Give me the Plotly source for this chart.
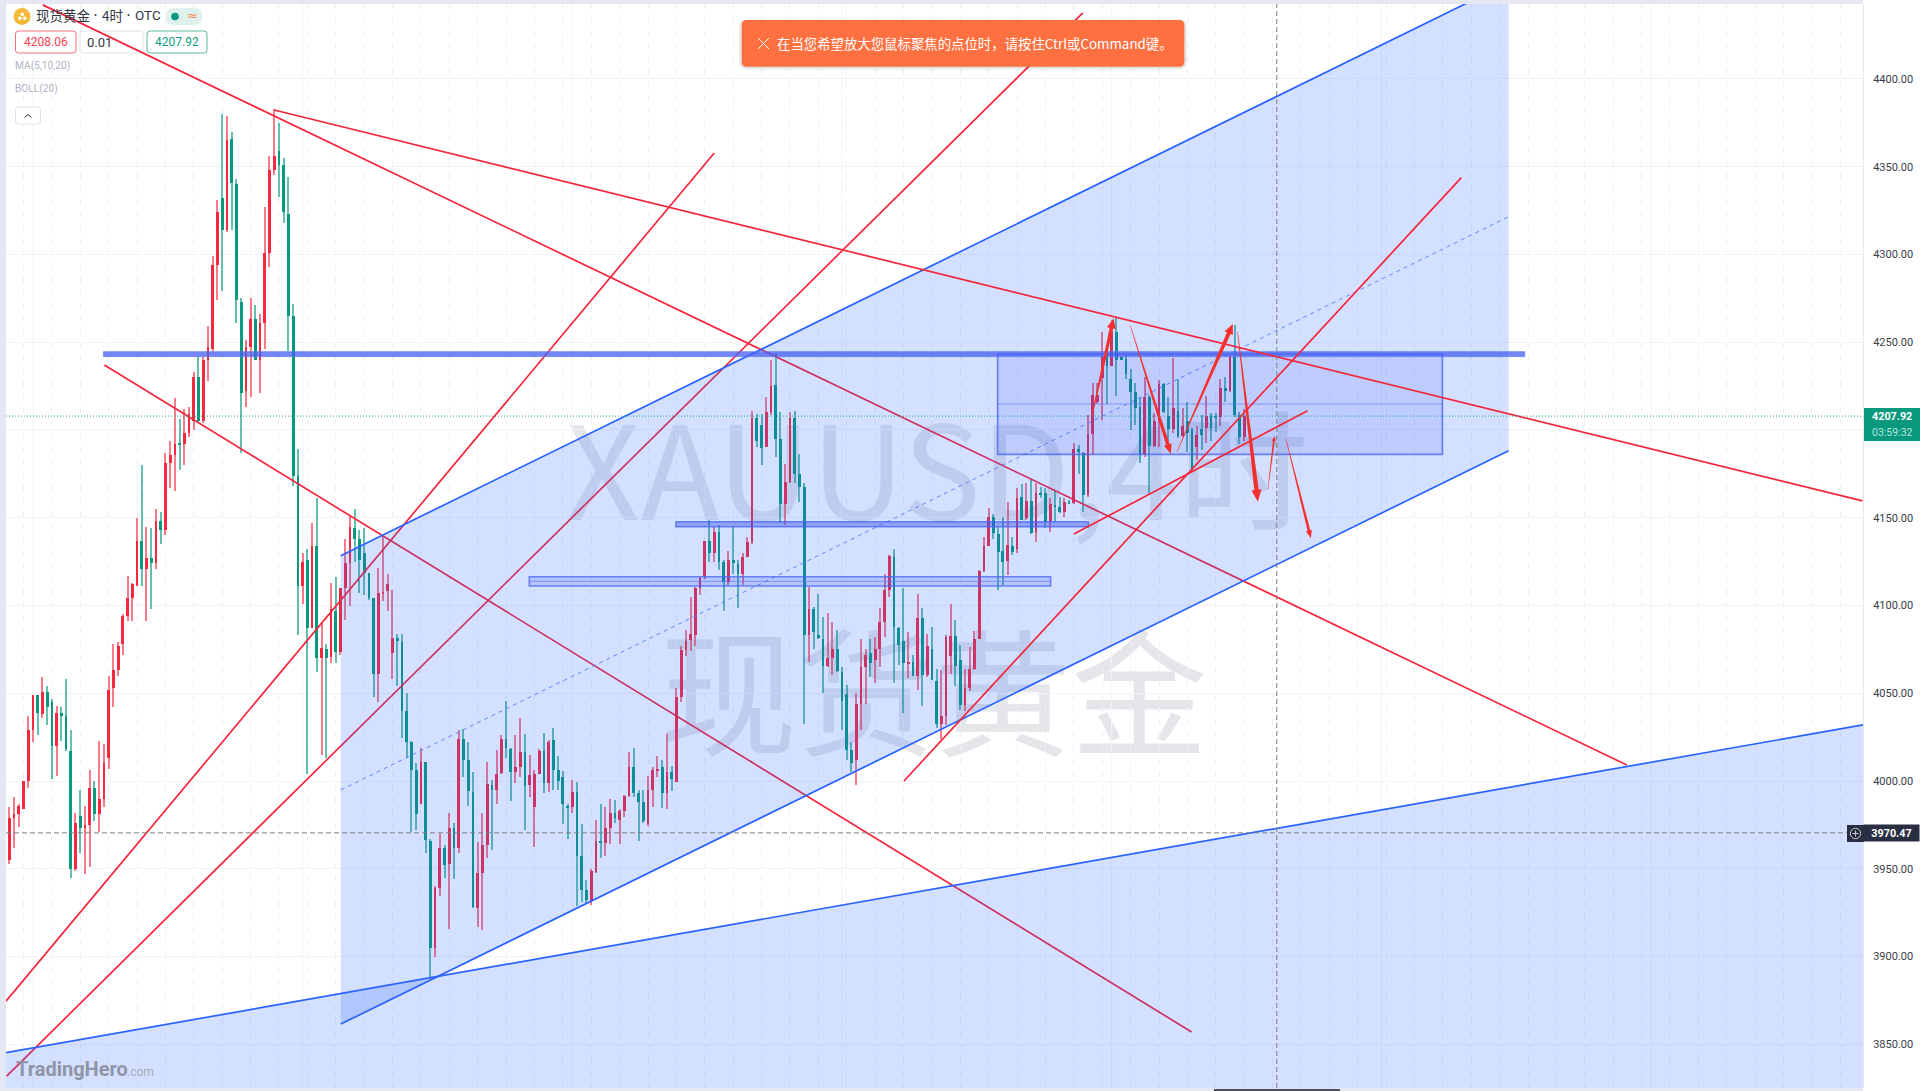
import plotly.graph_objects as go

OPEN = [3955,3979,3981,3984,4000,4029,4049,4038,4051,4045,
4020,4039,4037,4017,3950,3980,3973,3975,3996,3981,
3990,4013,4053,4063,4078,4094,4104,4111,4137,4121,
4127,4124,4148,4143,4181,4186,4192.5,4192,4198,4205,
4230,4205,4240,4246,4294,4332,4314,4366,4340,4273,
4222,4247,4263,4240,4261,4301,4348,4359,4351,4323,
4265,4174,4111,4126,4087,4134,4070,4075.5,4070.6,4097,
4073.6,4110,4124,4144,4138,4130,4118.6,4104.5,4061,4107,
4108,4073,4081.6,4079,4040,4022,4006.5,3987,4010.7,3966,
3904.6,3939,3961.6,3953,3973,3962,4023.8,4012,3994,3927.5,
3947.4,3963.5,3997.7,3995,4004.4,4023.8,4018,4005,4008,4016.4,
3997.7,3985,4004,4017,3998.7,4023.4,4006.3,4002.5,3986,3985,
3994,3957,3938,3932,3948.3,3966,3964.5,3973,3982,3978,
3983,3991.5,4008,3993,3988,3975.5,3995,4006,4008,3993.4,
4005,3999.6,4047.7,4074.7,4080.4,4083,4109.7,4116,4137,4129.7,
4141.7,4125,4113.6,4126,4123.6,4118,4127.7,4136,4206.6,4203,
4190.5,4210.4,4225.6,4195,4157.8,4170.5,4207,4175,4167.7,4083,
4097.8,4083,4081.2,4065.5,4069.9,4075.5,4062.2,4049.5,4017.6,4012,
4043.8,4065,4072.7,4069,4075.5,4090.7,4108.8,4127.8,4087,4079.7,
4067,4068,4059.8,4093,4060.3,4075,4057,4032.4,4037,4071,
4082.6,4069,4043.3,4052.8,4063.6,4081,4119.8,4133.9,4150.6,4141,
4131,4125.3,4133.9,4132,4161.6,4149.6,4159.7,4142,4164,4164.3,
4147.7,4157,4156.3,4153.5,4158.8,4158.2,4189,4187,4163,4197.7,
4216,4229.4,4241.8,4236.7,4256,4241.4,4240.3,4228.9,4221.5,4212.9,
4186.3,4218.6,4191,4205.3,4226,4208.2,4200.4,4210.8,4196.6,4205.3,
4200.4,4190.5,4200.6,4201,4208,4208,4207.2,4223.7,4222.4,4241.8,
4208.5,4196]

CLOSE = [3979,3981,3986,4000,4029,4049,4039,4051,4042,4020,
4039,4037,4018,3950,3976,3973,3975,3996,3981,3990,
4010,4052,4063,4077,4094,4104,4112,4137,4121,4127,
4124,4148,4143,4181,4186,4192,4192,4198,4209,4230,
4205,4240,4247,4294,4324,4314,4365,4341,4274,4221,
4247,4263,4240,4261,4301,4348,4356,4351,4324,4265,
4174,4111,4125,4087,4134,4070,4076,4070,4098,4073.6,
4110,4124,4145,4138,4126,4118.6,4104.5,4060.7,4107,4107.5,
4112,4081.6,4080,4040,4022,4006.5,3981,4010.7,3966.4,3904.6,
3939,3961.6,3952,3973,3962,4023.8,4012,3994.5,3928.4,3947.4,
3963.5,3998.3,3995,4004,4024,4018.6,4005,4007.8,4016.4,3997.4,
4003.5,4004,4017,3998.7,4022,4006.3,4000,3987,3985,3994,
3957,3938,3932,3948.7,3966,3964.5,3973,3982,3978.7,3983,
3991.5,4008,3993,3988,3977,3995,4006,4007,3993.4,4005,
4001,4047.7,4074.7,4080,4083.6,4109.7,4115.5,4137,4129.7,4142,
4125,4113.6,4126,4124,4118,4127.4,4136,4206.6,4194,4190,
4210.4,4225,4195,4157.8,4170.5,4207,4175,4167.7,4083,4097.8,
4085,4082,4065.5,4069.9,4075.5,4062.8,4045.7,4017.6,4010,4043.8,
4065,4071.7,4067,4075.5,4090.7,4108.8,4128,4087.5,4077.5,4067,
4068,4059.8,4093,4060.3,4076.9,4057.5,4032.4,4037,4082,4082.6,
4065.5,4043.3,4052.8,4063.6,4080.7,4119.8,4133.9,4150.6,4141.5,4130.6,
4125,4134.5,4130.3,4161,4149,4159.7,4141.5,4164.3,4163,4147.7,
4157.8,4156.5,4153.5,4158.8,4158.2,4189,4187.7,4163,4197.7,4220,
4220,4241.8,4236.7,4256,4240,4240.3,4232,4221.5,4212.7,4186.3,
4219,4191,4205.3,4226,4210.4,4200.4,4212.4,4196.6,4202.3,4198,
4177,4197,4197,4208,4201,4207.3,4223.7,4222.4,4241.8,4208.5,
4196,4207.92]

HIGH = [3985,3991,3987,4000,4037,4049,4049,4059,4054,4047,
4043,4042,4058,4029,3982,3995,3986,4006,4000,4023,
4021,4060,4078,4079,4095,4117,4113,4150,4180,4145,
4144,4155,4153,4187,4194,4218,4206,4212,4213,4233,
4242,4242,4259,4299,4331,4380,4379,4370,4343,4275,
4251,4275,4271,4266,4327,4356,4383,4375,4355,4344,
4272,4189,4130,4132,4147,4161,4090,4078,4113,4116,
4110,4138,4151,4155,4143,4144,4118.6,4104.5,4121.5,4140,
4118,4109,4083.5,4084,4050,4023,4010,4019,4011,3967,
3940,3970,3963.5,3981.6,3976,4029,4029.5,4022,4005,3965,
3981.6,4011,4000.6,4017.7,4026,4045.8,4018.6,4026,4036,4026.6,
4015,4006,4018,4027.6,4023.4,4030,4014,4005.7,3987,4000.6,
3999.6,3975.3,3943.6,3950,3977.8,3986.7,3985,3990,3989,3984,
3992,4016.4,4019,3995,3995,4003,4008,4014,4012,4026.6,
4008.8,4053,4077,4086,4105,4110.7,4116,4137,4148.7,4145,
4146,4126,4131,4144.5,4126,4130,4138.8,4211,4209,4209,
4218.6,4240,4243.7,4210.4,4180.6,4210,4211,4186.3,4169.6,4110.7,
4099.3,4106.3,4093.6,4095.5,4090.7,4086,4065,4054.6,4022,4050,
4081,4075.5,4081,4082,4098.3,4118,4128.5,4132,4087.5,4109.8,
4085,4072,4106.3,4098.3,4084,4088,4064,4063,4083,4100.6,
4091.7,4077.4,4064,4076.5,4085.4,4120,4139,4155.4,4152,4145,
4150.6,4159,4139,4166.8,4169,4169.6,4171.5,4169.6,4167.7,4166.7,
4161,4165.8,4162,4161,4160,4192.4,4191.4,4187.6,4208.5,4226.6,
4226.6,4256,4243.7,4262.7,4264.6,4241.8,4242.8,4235,4226.6,4219,
4230.4,4220,4209.5,4228.5,4227,4219,4240.9,4229,4212.4,4216,
4201,4202,4208.5,4219.4,4209.5,4209.5,4228.9,4230.4,4242.8,4259.9,
4210.4,4212]

LOW = [3953,3962,3974,3984,3996,4022,4026,4036,4032,4001,
4003,4023,4017,3945,3949,3959,3947,3951,3977,3971,
3985,4007,4042,4060,4072,4091,4091,4111,4111,4091,
4098,4121,4135,4140,4167,4165,4177,4180,4196,4200,
4204,4204,4228,4245,4274,4279,4313,4314,4261,4187,
4213,4219,4240,4221,4246,4293,4345,4333,4318,4245,
4168,4083,4101,4004,4087,4062,4015,4013,4067,4067,
4072,4092,4100,4125,4107,4106,4103,4048,4045,4102.5,
4097,4058,4054,4024.6,4013,3971,3972,3987,3958.8,3887.6,
3899.5,3934.7,3945,3915.7,3944,3959,4002.5,3985.8,3927.5,3917,
3915,3956,3960.7,3987,4004,4013,3988.6,3998.7,4002.5,3972,
3991,3962.6,4004,3993,3994,3995,3995,3975.3,3967,3981.6,
3929,3931,3930,3929.3,3947.4,3956,3957,3964,3976,3964,
3979.7,3991,3991,3966,3976,3974.6,3985,4002.5,3984.5,3984,
3994.3,3999.6,4045,4071.3,4074,4077,4106,4115,4125,4125,
4120,4097,4111.6,4118,4098.7,4111.6,4127.7,4135,4190.5,4180,
4190.5,4208.5,4184.8,4146.8,4145.8,4169.6,4169.6,4158.8,4032.4,4068,
4075.5,4081.2,4050,4065,4060.3,4062,4029,4012,4005,3998,
4029,4044,4059,4055.6,4065,4082,4105,4055.6,4066,4039,
4058.5,4059.8,4051.8,4043,4059,4057.5,4030,4024,4032,4061,
4054,4040.4,4040,4051.4,4063.3,4081,4119,4134,4138,4109,
4111.6,4117.4,4129,4130,4148.7,4149,4140.6,4136.4,4161,4144,
4142,4147.7,4152.5,4150.6,4157.8,4158,4175,4153.5,4162,4185.7,
4215,4205.7,4215,4236.7,4219.6,4240,4229,4200,4203,4181,
4184.8,4164,4190.5,4190.5,4209.5,4192.4,4198,4195.2,4196,4187.6,
4177,4183,4188.6,4192.4,4194,4199,4202,4216,4221.8,4207.6,
4192,4194]

assert len(OPEN) == len(CLOSE) == len(HIGH) == len(LOW)

Y_TICKS = [3850, 3900, 3950, 4000, 4050, 4100, 4150, 4200, 4250, 4300, 4350, 4400]
LAST_PRICE = 4207.92
CROSS_PRICE = 3970.47
CROSS_BAR = 267.9

# Trend lines in (bar index, price)
RED_UNDER = [((7.06, 4442.2), (341.9, 4009.1)),
             ((20.1, 4237.0), (249.9, 3857.0)),
             ((-0.7, 3874.6), (149.0, 4357.8)),
             ((-0.55, 3831.9), (226.9, 4437.6))]
RED_OVER = [((56.0, 4382.3), (391.7, 4159.6)),
            ((189.1, 4000.0), (306.9, 4343.8)),
            ((225.0, 4140.7), (274.4, 4211.0))]
# Arrows: start, end, tail width, head width
ARROWS = [((228.8, 4207.6), (233.4, 4263.6), 1.0, 3.6, 10, 9),
          ((236.9, 4259.8), (245.5, 4186.3), 0.5, 3.6, 10, 8),
          ((246.8, 4187.6), (258.6, 4260.4), 0.6, 4.0, 10, 9),
          ((259.6, 4256.0), (263.9, 4159.1), 0.6, 4.4, 12, 10),
          ((266.0, 4165.8), (267.4, 4196.6), 0.4, 1.8, 5, 4),
          ((269.8, 4195.3), (275.1, 4138.3), 0.5, 2.8, 8, 6)]
CHANNEL_BARS = (70.05, 316.9)
CHANNEL_TOP = (4128.4, 4454.9)
CHANNEL_MID = (3994.9, 4321.5)
CHANNEL_BOT = (3861.5, 4188.2)
FAN_BARS = (-0.7, 391.8)
FAN_PRICE = (3845.2, 4032.0)
THICK_RECT = (19.9, 320.3, 4241.8, 4244.6)
ZONE_A = (140.9, 228.1, 4144.9, 4147.7)
ZONE_B = (109.9, 220.1, 4111.1, 4116.4)
BOX = (208.9, 302.9, 4186.1, 4243.3)
BOX_MID = 4214.8

W, H = 1920, 1091
ML, MR, MT, MB = 6, 57, 4, 3
PW, PH = W - ML - MR, H - MT - MB
XR = (-0.7, 391.8)
YR = (3825.1, 4442.7)
SX = PW / (XR[1] - XR[0])
SY = PH / (YR[1] - YR[0])

def xp(px):
    return (px - ML) / PW

def yp(py):
    return 1 - (py - MT) / PH

RED = "#f6283f"
GREEN = "#07987e"
RED_LINE = "#f5263c"
BLUE = "#2962ff"

bars = list(range(len(OPEN)))
cols = [RED if c >= o else GREEN for o, c in zip(OPEN, CLOSE)]

fig = go.Figure()
fig.add_trace(go.Bar(x=bars, y=[h - l for h, l in zip(HIGH, LOW)], base=LOW, width=0.24,
                     marker=dict(color=cols, line=dict(width=0), opacity=0.62), hoverinfo="skip"))
fig.add_trace(go.Bar(x=bars, y=[max(abs(c - o), 0.7) for o, c in zip(OPEN, CLOSE)],
                     base=[min(o, c) for o, c in zip(OPEN, CLOSE)], width=0.58,
                     marker=dict(color=cols, line=dict(width=0)), hoverinfo="skip"))

shapes = []

def seg(p0, p1, color, width, dash=None):
    shapes.append(dict(type="line", xref="x", yref="y", x0=p0[0], y0=p0[1], x1=p1[0], y1=p1[1],
                       line=dict(color=color, width=width, dash=dash), layer="above"))

def poly(points, fill, line=None, lw=0):
    path = "M" + " L".join(f"{a},{b}" for a, b in points) + " Z"
    shapes.append(dict(type="path", xref="x", yref="y", path=path, fillcolor=fill,
                       line=dict(color=line or "rgba(0,0,0,0)", width=lw), layer="above"))

def rect(r, fill, line, lw):
    shapes.append(dict(type="rect", xref="x", yref="y", x0=r[0], x1=r[1], y0=r[2], y1=r[3],
                       fillcolor=fill, line=dict(color=line, width=lw), layer="above"))

def arrow(p0, p1, w0, w1, hl, hw):
    ax, ay = p0[0] * SX, p0[1] * SY
    bx, by = p1[0] * SX, p1[1] * SY
    dx, dy = bx - ax, by - ay
    n = (dx * dx + dy * dy) ** 0.5
    ux, uy = dx / n, dy / n
    nx, ny = -uy, ux
    neck = n - hl
    mx, my = ax + ux * neck, ay + uy * neck
    pts = [(ax + nx * w0 / 2, ay + ny * w0 / 2), (mx + nx * w1 / 2, my + ny * w1 / 2),
           (mx + nx * hw / 2, my + ny * hw / 2), (bx, by),
           (mx - nx * hw / 2, my - ny * hw / 2), (mx - nx * w1 / 2, my - ny * w1 / 2),
           (ax - nx * w0 / 2, ay - ny * w0 / 2)]
    poly([(a / SX, b / SY) for a, b in pts], "#f4302f")

def rrect(x0, y0, x1, y1, r, fill, line="rgba(0,0,0,0)", lw=0, layer="above"):
    a, b, c, d = xp(x0), xp(x1), yp(y0), yp(y1)
    rx, ry = r / PW, r / PH
    path = (f"M{a+rx},{c} L{b-rx},{c} Q{b},{c} {b},{c-ry} L{b},{d+ry} Q{b},{d} {b-rx},{d} "
            f"L{a+rx},{d} Q{a},{d} {a},{d+ry} L{a},{c-ry} Q{a},{c} {a+rx},{c} Z")
    shapes.append(dict(type="path", xref="paper", yref="paper", path=path, fillcolor=fill,
                       line=dict(color=line, width=lw), layer=layer))

def circle(cx, cy, r, fill, line="rgba(0,0,0,0)", lw=0):
    shapes.append(dict(type="circle", xref="paper", yref="paper", x0=xp(cx - r), x1=xp(cx + r),
                       y0=yp(cy + r), y1=yp(cy - r), fillcolor=fill,
                       line=dict(color=line, width=lw), layer="above"))

def pline(x0, y0, x1, y1, color, width=1):
    shapes.append(dict(type="line", xref="paper", yref="paper", x0=xp(x0), x1=xp(x1), y0=yp(y0), y1=yp(y1),
                       line=dict(color=color, width=width), layer="above"))

# page frame and price-axis strip
shapes.append(dict(type="rect", xref="paper", yref="paper", x0=1, x1=xp(W + 2), y0=yp(H + 2), y1=yp(-2),
                   fillcolor="white", line=dict(width=0), layer="below"))

# watermark (behind the candles)
for txt_, cy, cx, fs in [("XAUUSD,4时", 484, 937, 130), ("现货黄金", 708, 934, 137)]:
    shapes.append(dict(type="rect", xref="paper", yref="paper", x0=xp(cx - 540), x1=xp(cx + 540),
                       y0=yp(cy + 100), y1=yp(cy - 100), fillcolor="rgba(0,0,0,0)", line=dict(width=0),
                       layer="below",
                       label=dict(text=txt_, textposition="middle center",
                                  font=dict(family="Noto Sans CJK SC", size=fs, color="#e5e6ea"))))

# month separators
for b in [5, 62, 119, 176, 233, 290, 347]:
    shapes.append(dict(type="line", xref="x", yref="paper", x0=b, x1=b, y0=0, y1=1,
                       line=dict(color="#f3f4f9", width=1), layer="below"))

# header widgets (the drawn lines pass over them)
circle(22, 16.5, 8.5, "#f2b93b")
circle(22.3, 14.3, 1.8, "white")
circle(19.8, 18.3, 1.8, "white")
circle(24.8, 18.3, 1.8, "white")
rrect(166, 8, 202, 25, 8, "#dff1ed")
circle(175, 16.5, 3.8, "#079a80")
rrect(15.5, 31, 76, 53, 3, "white", "#f4707d", 1)
rrect(80, 31, 143, 53, 3, "white", "#dfe1ea", 1)
rrect(147, 31, 207, 53, 3, "white", "#5ab9a6", 1)
rrect(15.5, 107, 40.5, 124, 3, "white", "#dfe1ea", 1)
pline(24.5, 117.5, 28, 114.5, "#333", 1)
pline(28, 114.5, 31.5, 117.5, "#333", 1)

for a, b in RED_UNDER:
    seg(a, b, RED_LINE, 1.7)

x0, x1 = CHANNEL_BARS
poly([(x0, CHANNEL_TOP[0]), (x1, CHANNEL_TOP[1]), (x1, CHANNEL_BOT[1]), (x0, CHANNEL_BOT[0])],
     "rgba(41,98,255,0.2)")
fx0, fx1 = FAN_BARS
poly([(fx0, FAN_PRICE[0]), (fx1, FAN_PRICE[1]), (fx1, 3700), (fx0, 3700)], "rgba(41,98,255,0.2)")

seg((x0, CHANNEL_TOP[0]), (x1, CHANNEL_TOP[1]), BLUE, 1.7)
seg((x0, CHANNEL_BOT[0]), (x1, CHANNEL_BOT[1]), BLUE, 1.7)
seg((x0, CHANNEL_MID[0]), (x1, CHANNEL_MID[1]), "#5c86ff", 1, "4px,4px")
seg((fx0, FAN_PRICE[0]), (fx1, FAN_PRICE[1]), BLUE, 1.7)

rect(BOX, "rgba(48,80,240,0.13)", "rgba(70,100,240,0.75)", 1.7)
seg((BOX[0], BOX_MID), (BOX[1], BOX_MID), "rgba(80,110,245,0.55)", 1)
rect(ZONE_A, "rgba(60,85,240,0.45)", "rgba(70,100,240,0.75)", 1.5)
rect(ZONE_B, "rgba(60,85,240,0.2)", "rgba(70,100,240,0.75)", 1.5)
seg((ZONE_B[0], (ZONE_B[2] + ZONE_B[3]) / 2), (ZONE_B[1], (ZONE_B[2] + ZONE_B[3]) / 2), "rgba(80,110,245,0.55)", 1)
rect(THICK_RECT, "rgba(70,95,240,0.75)", "rgba(90,115,245,0.7)", 1)

for a, b in RED_OVER:
    seg(a, b, RED_LINE, 1.7)
for a in ARROWS:
    arrow(*a)

# last price and crosshair
seg((XR[0], LAST_PRICE), (XR[1], LAST_PRICE), "#1aa48c", 1, "1px,2px")
seg((XR[0], CROSS_PRICE), (XR[1] - 3.4, CROSS_PRICE), "#7d7d82", 1, "5px,3px")
shapes.append(dict(type="line", xref="x", yref="paper", x0=CROSS_BAR, x1=CROSS_BAR, y0=0, y1=1,
                   line=dict(color="#7d7d82", width=1, dash="5px,3px"), layer="above"))

# crosshair tag icon
rrect(1847, 825, 1864, 842, 0, "#2a2e43")
circle(1855.5, 833.5, 5.2, "rgba(0,0,0,0)", "#c8c9d0", 1)
pline(1852.5, 833.5, 1858.5, 833.5, "#c8c9d0", 1)
pline(1855.5, 830.5, 1855.5, 836.5, "#c8c9d0", 1)

# last-price tag body and crosshair time stub at the bottom edge
rrect(1864, 408, 1920, 441, 0, GREEN)
rrect(1214, 1089, 1340, 1091, 0, "#4a4e60")

# toast
rrect(739, 19, 1187, 70, 8, "rgba(0,0,0,0.05)")
rrect(740, 20, 1186, 68.5, 7, "rgba(0,0,0,0.06)")
rrect(741.7, 20, 1184.3, 66.7, 5, "#ff7040")
pline(758, 38, 769, 49, "white", 1)
pline(769, 38, 758, 49, "white", 1)

annos = []

def txt(px, py, text, size, color, anchor="left", family="Noto Sans CJK SC"):
    annos.append(dict(x=xp(px), y=yp(py), xref="paper", yref="paper", text=text, showarrow=False,
                      xanchor=anchor, yanchor="middle", align=anchor,
                      font=dict(family=family, size=size, color=color), borderpad=0, borderwidth=0))

txt(35.5, 15.5, "现货黄金", 13.5, "#33353f")
txt(95, 15.5, "•", 9, "#33353f", "center", "Roboto")
txt(101.5, 15.5, "4时", 13.5, "#33353f")
txt(128, 15.5, "•", 9, "#33353f", "center", "Roboto")
txt(134.5, 15.5, "OTC", 13.5, "#33353f", "left", "Roboto")
txt(192.5, 15.5, "≈", 13, "#f58a50", "center", "DejaVu Sans")
txt(45.7, 42, "4208.06", 12, "#f5414f", "center", "Roboto")
txt(87, 42.5, "0.01", 13, "#33353f", "left", "Roboto")
txt(177, 42, "4207.92", 12, "#0f9c83", "center", "Roboto")
txt(15, 66, "MA(5,10,20)", 10.2, "#b1b4c3", "left", "Roboto")
txt(15, 89, "BOLL(20)", 10.2, "#b1b4c3", "left", "Roboto")
txt(776.5, 43.5, "在当您希望放大您鼠标聚焦的点位时，请按住Ctrl或Command键。", 13.4, "white")
txt(15.5, 1069, "<b>TradingHero</b>", 20, "#8f95a6", "left", "Roboto")
txt(126.5, 1071.5, ".com", 12, "#a5aaba", "left", "Roboto")
txt(1892, 416.5, "<b>4207.92</b>", 10.8, "white", "center", "Roboto")
txt(1892, 432.5, "03:59:32", 10.5, "#b8e4da", "center", "Roboto")

annos.append(dict(x=1, xref="paper", y=CROSS_PRICE, yref="y", xanchor="left", yanchor="middle",
                  text="<b>3970.47</b>", showarrow=False, align="center", bgcolor="#2a2e43",
                  width=55, height=16, borderpad=0,
                  font=dict(family="Roboto", size=10.8, color="white")))

fig.update_layout(
    width=W, height=H, margin=dict(l=ML, r=MR, t=MT, b=MB, pad=0),
    paper_bgcolor="#e5e8f3", plot_bgcolor="white", showlegend=False, bargap=0, barmode="overlay",
    hovermode=False, shapes=shapes, annotations=annos, dragmode=False,
    xaxis=dict(range=list(XR), showticklabels=False, ticks="", zeroline=False,
               tickmode="array", tickvals=list(range(3, 392, 6)),
               showgrid=True, gridcolor="#eef0f6", griddash="6px,7px", gridwidth=1, fixedrange=True),
    yaxis=dict(range=list(YR), side="right", tickmode="array", tickvals=Y_TICKS,
               ticktext=[f"{v:.2f}" for v in Y_TICKS], ticks="", ticklabelstandoff=7,
               tickfont=dict(family="Roboto", size=11, color="#3a3d48"),
               showgrid=True, gridcolor="#f2f3f8", gridwidth=1, zeroline=False,
               showline=True, linecolor="#e4e6f0", linewidth=1, fixedrange=True),
)

fig.write_html("out.html", config={"displayModeBar": False},
               post_script="document.body.style.margin='0';document.body.style.overflow='hidden';")
